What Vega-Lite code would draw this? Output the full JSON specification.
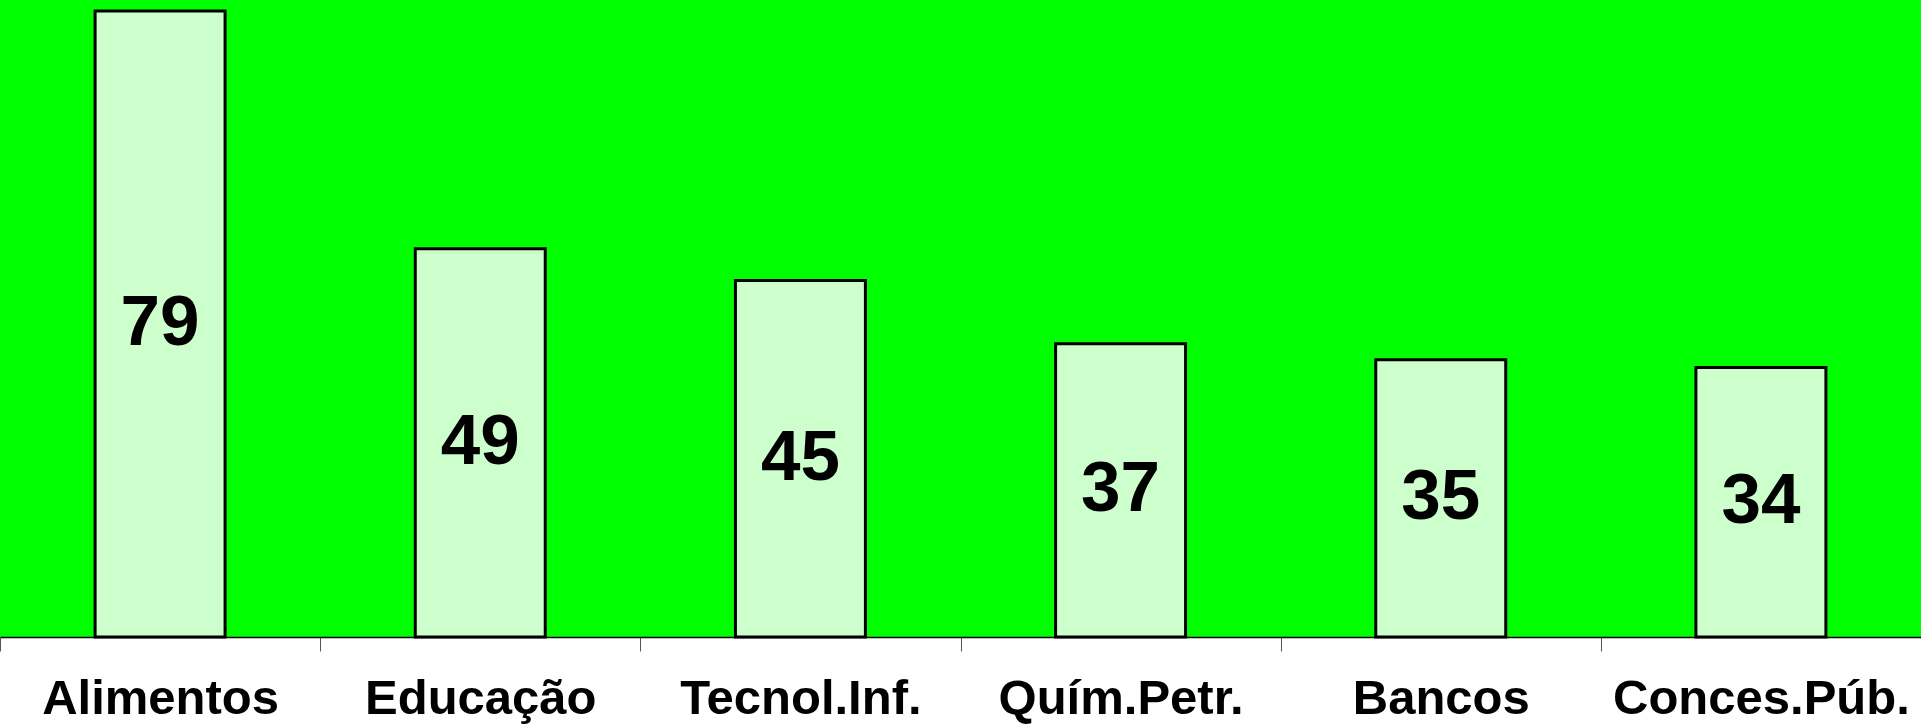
{
  "$schema": "https://vega.github.io/schema/vega-lite/v6.json",
  "width": 1921,
  "height": 637,
  "autosize": "none",
  "padding": {"left": 0, "top": 0, "right": 0, "bottom": 89},
  "background": "white",
  "config": {"view": {"fill": "#00FF00", "stroke": null}},
  "data": {
    "values": [
      {"setor": "Alimentos", "valor": 79},
      {"setor": "Educação", "valor": 49},
      {"setor": "Tecnol.Inf.", "valor": 45},
      {"setor": "Quím.Petr.", "valor": 37},
      {"setor": "Bancos", "valor": 35},
      {"setor": "Conces.Púb.", "valor": 34}
    ]
  },
  "encoding": {
    "x": {
      "field": "setor",
      "type": "nominal",
      "sort": null,
      "scale": {"paddingInner": 0, "paddingOuter": 0},
      "axis": {
        "title": null,
        "labelAngle": 0,
        "labelFont": "Liberation Sans",
        "labelFontSize": 49,
        "labelFontWeight": "bold",
        "labelColor": "black",
        "labelPadding": 23,
        "labelLimit": 500,
        "labelOverlap": false,
        "tickSize": 14,
        "tickColor": "#555555",
        "tickWidth": 1,
        "tickBand": "extent",
        "domainColor": "black",
        "domainWidth": 1.5
      }
    }
  },
  "layer": [
    {
      "mark": {"type": "bar", "width": {"band": 0.406}, "fill": "#CCFFCC", "stroke": "black", "strokeWidth": 3},
      "encoding": {
        "y": {"field": "valor", "type": "quantitative", "scale": {"domain": [0, 80.4], "nice": false}, "axis": null}
      }
    },
    {
      "mark": {"type": "text", "font": "Liberation Sans", "fontSize": 71, "fontWeight": "bold", "baseline": "middle", "align": "center", "color": "black"},
      "encoding": {
        "y": {"field": "valor", "type": "quantitative", "scale": {"domain": [0, 160.8], "nice": false}, "axis": null},
        "text": {"field": "valor", "type": "quantitative"}
      }
    }
  ],
  "resolve": {"scale": {"y": "independent"}}
}
